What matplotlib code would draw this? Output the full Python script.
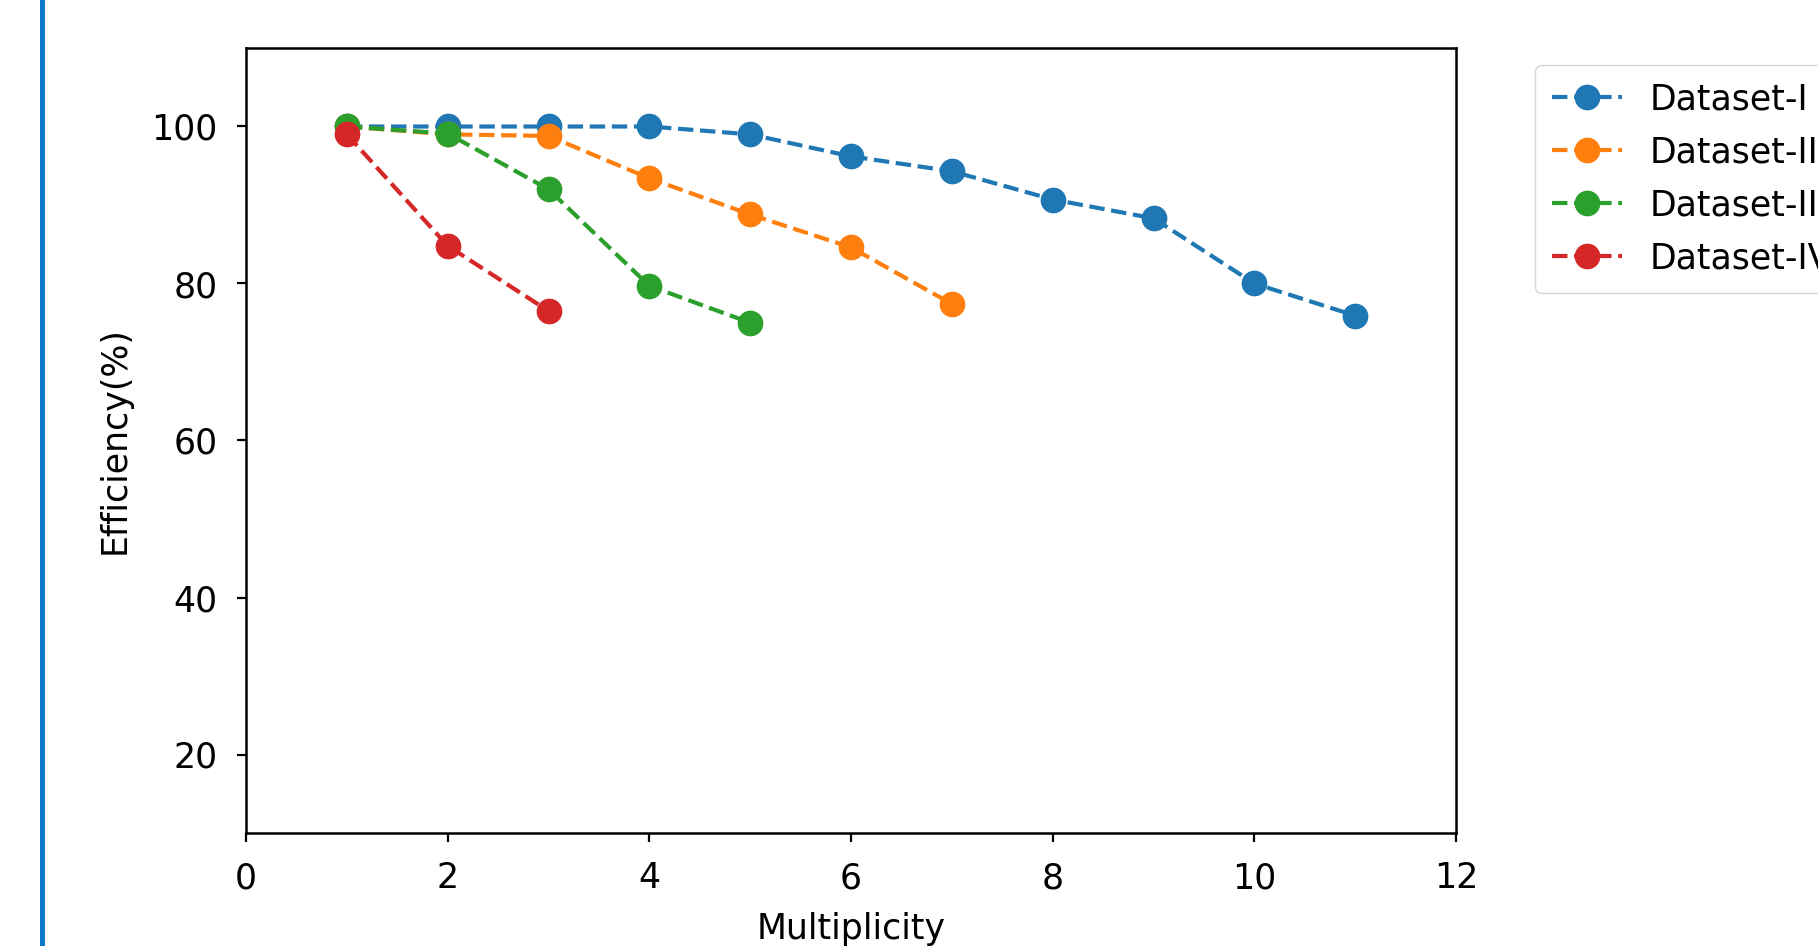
import matplotlib
matplotlib.use("Agg")
import matplotlib.pyplot as plt
from matplotlib.patches import Rectangle

plt.rcParams['font.family'] = ['DejaVu Sans']

x_I = [1, 2, 3, 4, 5, 6, 7, 8, 9, 10, 11]
y_I = [100, 100, 100, 100, 99.0, 96.2, 94.3, 90.7, 88.3, 80.0, 75.9]
x_II = [1, 2, 3, 4, 5, 6, 7]
y_II = [100, 99.0, 98.8, 93.4, 88.8, 84.6, 77.4]
x_III = [1, 2, 3, 4, 5]
y_III = [100, 99.1, 92.0, 79.7, 75.0]
x_IV = [1, 2, 3]
y_IV = [99.0, 84.8, 76.5]

series = [
    (x_I, y_I, 'Dataset-I', '#1f77b4'),
    (x_II, y_II, 'Dataset-II', '#ff7f0e'),
    (x_III, y_III, 'Dataset-III', '#2ca02c'),
    (x_IV, y_IV, 'Dataset-IV', '#d62728'),
]

xticks = [0, 2, 4, 6, 8, 10, 12]
yticks = [20, 40, 60, 80, 100]

W, H = 1818, 946
fig = plt.figure(figsize=(W / 100, H / 100), dpi=100)
fig.patch.set_facecolor('white')

# blue bar at left edge of screenshot
fig.add_artist(Rectangle((40 / W, 0), 5 / W, 1, transform=fig.transFigure,
                         facecolor='#0a78c8', edgecolor='none'))

ax = fig.add_axes([246 / W, 1 - 833 / H, (1456 - 246) / W, (833 - 48) / H])

for xs, ys, lab, col in series:
    ax.plot(xs, ys, linestyle='--', marker='o', color=col, label=lab,
            linewidth=3.0, markersize=17.5)

ax.set_xlim(0, 12)
ax.set_ylim(10, 110)
ax.set_xticks(xticks)
ax.set_yticks(yticks)
ax.tick_params(labelsize=25, length=6.5, width=1.6, pad=14)
for s in ax.spines.values():
    s.set_linewidth(1.8)

ax.set_xlabel('Multiplicity', fontsize=25, labelpad=12)
ax.set_ylabel('Efficiency(%)', fontsize=25, labelpad=14)

fig.legend(loc='upper left', bbox_to_anchor=(1535 / W, 1 - 65 / H),
           borderaxespad=0, fontsize=25, handlelength=2.0,
           labelspacing=0.55, borderpad=0.5, handletextpad=0.8,
           frameon=True)

fig.savefig('out.png', dpi=100, facecolor='white')
